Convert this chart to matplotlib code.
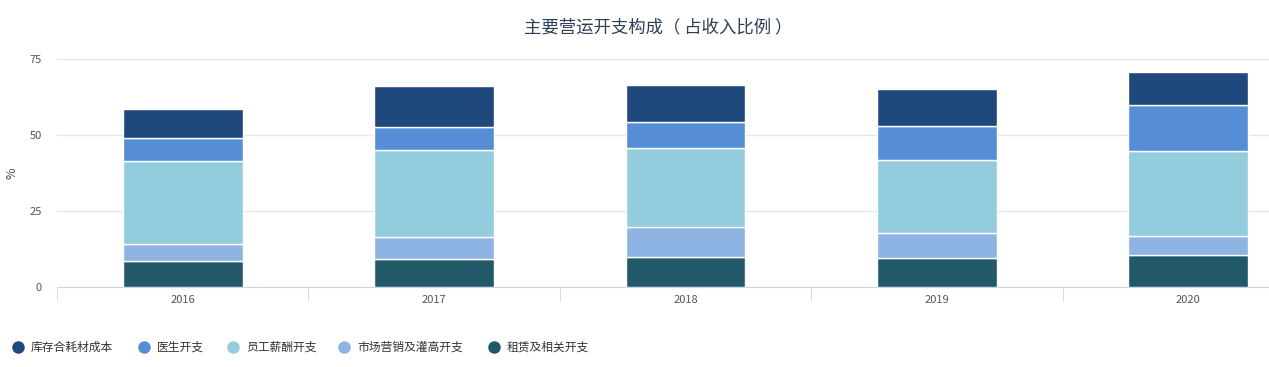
import matplotlib
matplotlib.use("Agg")
from matplotlib import pyplot as plt
from matplotlib.lines import Line2D
import numpy as np

plt.rcParams['font.family'] = ['Noto Sans CJK SC', 'DejaVu Sans']

years = ['2016', '2017', '2018', '2019', '2020']
series = ['库存合耗材成本', '医生开支', '员工薪酬开支', '市场营销及灌高开支', '租赁及相关开支']
inventory = [9.6, 13.4, 12.2, 12.2, 10.8]
doctor = [7.5, 7.7, 8.6, 11.2, 15.2]
staff = [27.4, 28.7, 26.0, 24.0, 27.9]
marketing = [5.3, 7.2, 9.8, 8.3, 6.4]
rent = [8.7, 9.1, 9.8, 9.4, 10.4]
colors = ['#1F497D', '#558ED5', '#93CDDD', '#8EB4E3', '#215968']

W, H = 1269, 367
fig = plt.figure(figsize=(W / 100, H / 100), dpi=100)
# plot area runs past the right edge (the original is cropped)
left, right, bottom, top = 57, 1314, 287, 59
ax = fig.add_axes([left / W, 1 - bottom / H, (right - left) / W, (bottom - top) / H])

x = np.arange(len(years))
base = np.zeros(len(years))
# stack from bottom: rent, marketing, staff, doctor, inventory
stack = [(rent, colors[4]), (marketing, colors[3]), (staff, colors[2]),
         (doctor, colors[1]), (inventory, colors[0])]
for vals, c in stack:
    ax.bar(x, vals, 0.477, bottom=base, color=c, edgecolor='white', linewidth=1, zorder=3)
    base += np.array(vals)

ax.set_xlim(-0.5, len(years) - 0.5)
ax.set_ylim(0, 75)
ax.set_yticks([0, 25, 50, 75])
ax.grid(axis='y', color='#e6e6e6', linewidth=1, zorder=0)
for s in ['top', 'right', 'left']:
    ax.spines[s].set_visible(False)
ax.spines['bottom'].set_color('#ccd6eb')
ax.set_xticks(x)
ax.set_xticklabels(years)
ax.set_xticks(np.arange(-0.5, len(years)), minor=True)
ax.tick_params(axis='x', which='major', length=0, labelsize=8, colors='#555555', pad=6)
ax.tick_params(axis='x', which='minor', length=10, color='#ccd6eb')
ax.tick_params(axis='y', length=0, labelsize=8, colors='#555555', pad=11)
ax.set_ylabel('%', fontsize=9, color='#3a4a66')
ax.yaxis.set_label_coords((19 - left) / (right - left), 0.5)

fig.text(658 / W, 1 - 27 / H, '主要营运开支构成（ 占收入比例 ）', ha='center', va='center',
         fontsize=12.5, color='#2c3e5a')

# legend items placed by hand
marker_x = [18, 144, 233, 344, 494]
ly = 1 - 347 / H
for mx, c, name in zip(marker_x, colors, series):
    fig.add_artist(Line2D([mx / W], [ly], marker='o', linestyle='', markersize=8,
                          markerfacecolor=c, markeredgecolor=c, transform=fig.transFigure))
    fig.text((mx + 13) / W, ly, name, ha='left', va='center', fontsize=8.5, color='#333333')

fig.savefig('out.png', dpi=100)
